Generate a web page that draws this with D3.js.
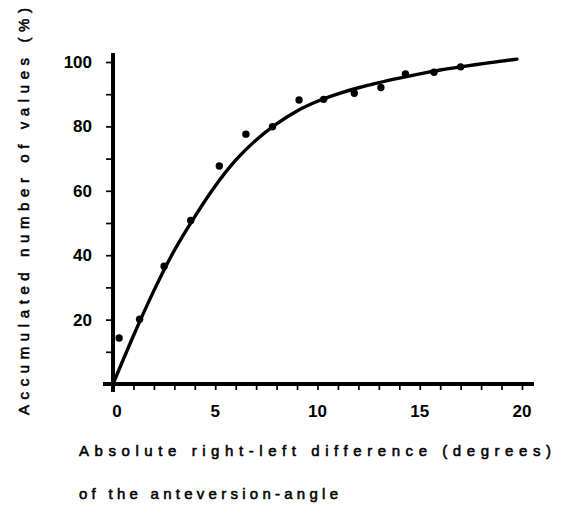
<!DOCTYPE html>
<html>
<head>
<meta charset="utf-8">
<script src="https://cdn.jsdelivr.net/npm/d3@7"></script>
<style>
    body { margin: 0; background: #fff; }
    svg { display: block; }
</style>
</head>
<body>
<div id="chart"></div>
<script>
// measured values (degrees difference vs. accumulated %)
var pointX = [0.3, 1.3, 2.5, 3.8, 5.2, 6.5, 7.8, 9.1, 10.3, 11.8, 13.1, 14.3, 15.7, 17.0];
var pointY = [14.3, 20.1, 36.6, 50.8, 67.7, 77.6, 79.9, 88.2, 88.4, 90.3, 92.1, 96.3, 96.8, 98.5];

// fitted curve
var curveX = [0, 1, 2, 3, 4, 5, 6, 7, 8, 9, 10, 11, 12, 13, 14, 15, 16, 17, 18, 19.75];
var curveY = [0, 15, 29, 41.5, 52, 61.5, 69.5, 75.8, 80.8, 84.8, 87.8, 90.1, 92, 93.6, 95, 96.3, 97.5, 98.5, 99.4, 100.9];

var xTickLabels = [0, 5, 10, 15, 20];
var yTickLabels = [20, 40, 60, 80, 100];

var yTitle = 'Accumulated number of values    (%)';
var xTitle1 = 'Absolute right-left difference  (degrees)';
var xTitle2 = 'of the anteversion-angle';

var width = 563, height = 508;
var font = '"Liberation Sans", Arial, sans-serif';

var svg = d3.select('#chart').append('svg')
    .attr('width', width)
    .attr('height', height);

var x = d3.scaleLinear().domain([0, 20]).range([113, 522]);
var y = d3.scaleLinear().domain([0, 100]).range([384, 62]);

// minor ticks: x every 1 degree, y every 10 %
var xAxis = d3.axisBottom(x)
    .tickValues(d3.range(0, 21))
    .tickSize(6)
    .tickFormat('');
var yAxis = d3.axisLeft(y)
    .tickValues(d3.range(10, 101, 10))
    .tickSize(7)
    .tickFormat('');

var xg = svg.append('g')
    .attr('transform', 'translate(0,' + y(0) + ')')
    .call(xAxis);
var yg = svg.append('g')
    .attr('transform', 'translate(' + x(0) + ',0)')
    .call(yAxis);

[xg, yg].forEach(function (g) {
    g.select('.domain').remove();
    g.selectAll('.tick line')
        .attr('stroke', '#000')
        .attr('stroke-width', 1.7);
});

// heavy axis lines, a bit longer than the range
svg.append('line')
    .attr('x1', 103).attr('x2', 534)
    .attr('y1', y(0)).attr('y2', y(0))
    .attr('stroke', '#000').attr('stroke-width', 4);
svg.append('line')
    .attr('x1', x(0)).attr('x2', x(0))
    .attr('y1', 53).attr('y2', 392)
    .attr('stroke', '#000').attr('stroke-width', 4);

// tick labels
svg.append('g').selectAll('text').data(xTickLabels).enter()
    .append('text')
    .attr('x', d => x(d) + (d === 0 ? 4 : 0))
    .attr('y', 411)
    .attr('dy', '0.35em')
    .attr('text-anchor', 'middle')
    .attr('font-family', font)
    .attr('font-weight', 'bold')
    .attr('font-size', 17)
    .text(d => d);

svg.append('g').selectAll('text').data(yTickLabels).enter()
    .append('text')
    .attr('x', 92)
    .attr('y', d => y(d))
    .attr('dy', '0.35em')
    .attr('text-anchor', 'end')
    .attr('font-family', font)
    .attr('font-weight', 'bold')
    .attr('font-size', 17)
    .text(d => d);

// curve
var line = d3.line()
    .x(d => x(d[0]))
    .y(d => y(d[1]))
    .curve(d3.curveMonotoneX);

svg.append('path')
    .datum(d3.zip(curveX, curveY))
    .attr('d', line)
    .attr('fill', 'none')
    .attr('stroke', '#000')
    .attr('stroke-width', 3.4)
    .attr('stroke-linecap', 'round');

// data points
svg.append('g').selectAll('circle').data(d3.zip(pointX, pointY)).enter()
    .append('circle')
    .attr('cx', d => x(d[0]))
    .attr('cy', d => y(d[1]))
    .attr('r', 3.7)
    .attr('fill', '#000');

// titles, spaced out like the typewriter original
function title(sel, str, len) {
    return sel.append('text')
        .attr('font-family', font)
        .attr('font-size', 15)
        .attr('fill', '#000')
        .attr('stroke', '#000')
        .attr('stroke-width', 0.55)
        .attr('textLength', len)
        .attr('lengthAdjust', 'spacing')
        .text(str);
}

title(svg, yTitle, 407)
    .attr('transform', 'translate(29,415) rotate(-90)');
title(svg, xTitle1, 472)
    .attr('x', 79)
    .attr('y', 451)
    .attr('dy', '0.35em');
title(svg, xTitle2, 259)
    .attr('x', 79)
    .attr('y', 494)
    .attr('dy', '0.35em');
</script>
</body>
</html>
